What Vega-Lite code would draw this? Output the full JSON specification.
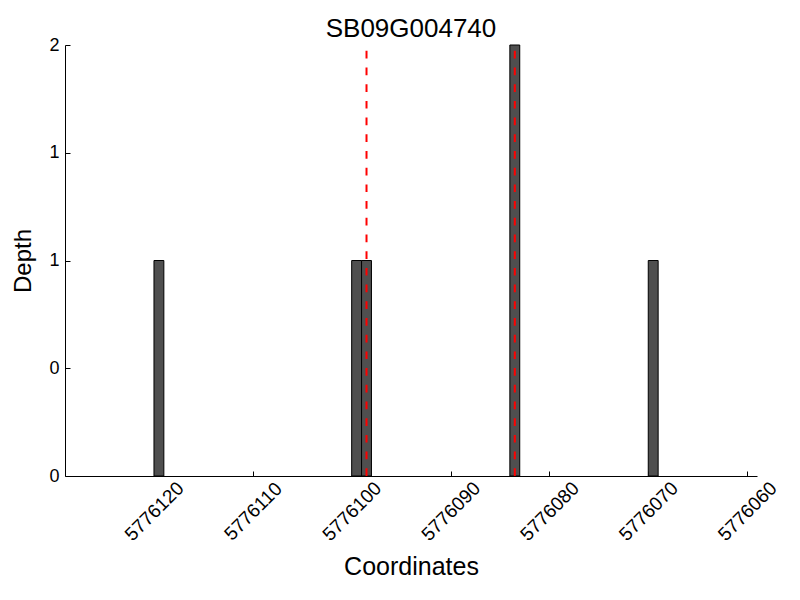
{
  "$schema": "https://vega.github.io/schema/vega-lite/v6.json",
  "width": 692,
  "height": 431,
  "autosize": {"type": "none"},
  "padding": {"left": 65, "top": 45, "right": 43, "bottom": 124},
  "background": "white",
  "config": {
    "font": "Liberation Sans",
    "view": {"stroke": null},
    "axis": {"grid": false, "domainColor": "black", "tickColor": "black", "labelColor": "black", "titleColor": "black", "titleFontWeight": "normal", "domainWidth": 1, "tickWidth": 1}
  },
  "title": {"text": "SB09G004740", "fontSize": 26, "fontWeight": "normal", "color": "black", "offset": -6, "font": "Liberation Sans"},
  "resolve": {"axis": {"x": "independent", "y": "independent"}},
  "layer": [
    {
      "data": {"values": [
        {"start": 5776119, "end": 5776120, "depth": 1},
        {"start": 5776099, "end": 5776100, "depth": 1},
        {"start": 5776098, "end": 5776099, "depth": 1},
        {"start": 5776083, "end": 5776084, "depth": 2},
        {"start": 5776069, "end": 5776070, "depth": 1}
      ]},
      "mark": {"type": "bar", "fill": "#4f4f4f", "stroke": "black", "strokeWidth": 1},
      "encoding": {
        "x": {"field": "start", "type": "quantitative",
          "scale": {"domain": [5776059, 5776129], "reverse": true, "nice": false, "zero": false},
          "axis": {"orient": "bottom", "title": "Coordinates", "titleFontSize": 25, "titlePadding": 10, "values": [5776060, 5776070, 5776080, 5776090, 5776100, 5776110, 5776120], "format": "d", "labelFontSize": 19, "labelAngle": -45, "labelAlign": "center", "labelBaseline": "middle", "labelPadding": 35, "ticks": false, "labelOverlap": false, "labelBound": false, "labelFlush": false}},
        "x2": {"field": "end"},
        "y": {"field": "depth", "type": "quantitative",
          "scale": {"domain": [0, 2], "nice": false},
          "axis": {"orient": "left", "title": "Depth", "titleFontSize": 24, "titlePadding": 13, "values": [0, 0.5, 1, 1.5, 2], "labelExpr": "'' + floor(datum.value)", "labelFontSize": 18, "labelPadding": 6, "ticks": false, "labelOverlap": false, "labelBound": false, "labelFlush": false}},
        "y2": {"datum": 0}
      }
    },
    {
      "data": {"values": [{"pos": 5776098.5}, {"pos": 5776083.5}]},
      "mark": {"type": "rule", "color": "red", "strokeWidth": 2, "strokeDash": [7.7, 9]},
      "encoding": {
        "x": {"field": "pos", "type": "quantitative",
          "axis": {"orient": "bottom", "offset": -5, "tickSize": 5, "domain": false, "labels": false, "title": null, "values": [5776060, 5776070, 5776080, 5776090, 5776100, 5776110, 5776120]}},
        "y": {"datum": 0, "type": "quantitative",
          "axis": {"orient": "left", "offset": -5, "tickSize": 5, "domain": false, "labels": false, "title": null, "values": [0, 0.5, 1, 1.5, 2]}},
        "y2": {"datum": 2}
      }
    }
  ]
}
